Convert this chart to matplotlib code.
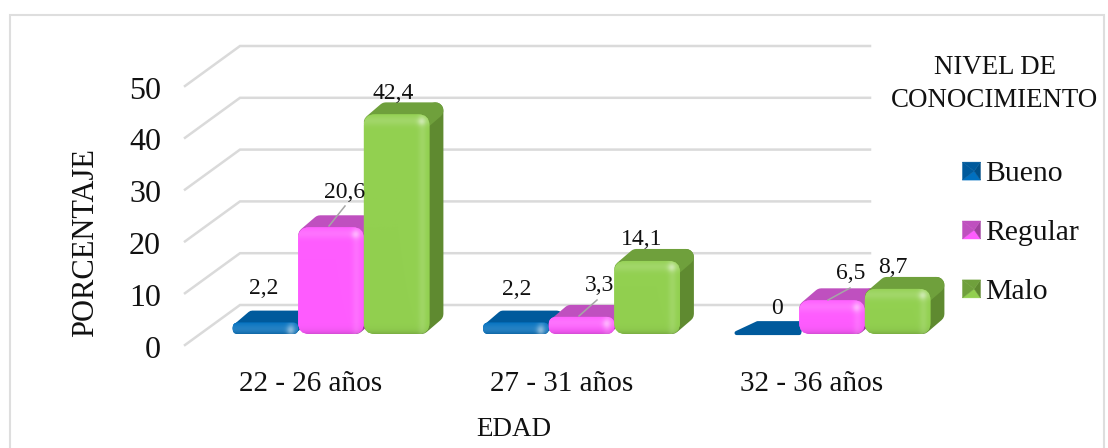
import numpy as np
import matplotlib
matplotlib.use('Agg')
import matplotlib.pyplot as plt
from matplotlib.patches import FancyBboxPatch, Polygon, Rectangle
from matplotlib.legend_handler import HandlerBase
from matplotlib.colors import to_rgb

plt.rcParams['font.family'] = ['Liberation Serif', 'DejaVu Serif']

# data
edades = ['22 - 26 años', '27 - 31 años', '32 - 36 años']
bueno = [2.2, 2.2, 0]
regular = [20.6, 3.3, 6.5]
malo = [42.4, 14.1, 8.7]
niveles = ['Bueno', 'Regular', 'Malo']
y_ticks = [0, 10, 20, 30, 40, 50]

# front, top, side colours per series
colors = [('#0070C0', '#005A9C', '#004F88'),
          ('#FF5CFF', '#BF50BF', '#A040A0'),
          ('#92D050', '#6FA03C', '#5F8A30')]

W, H = 1108, 448
PX_X = 250.5   # px per group
PX_Y = 5.18    # px per percent
X0, Y0 = 331, 334  # pixel of group 0 centre / value 0


def fx(px):
    return (px - X0) / PX_X


def fy(py):
    return (Y0 - py) / PX_Y


fig = plt.figure(figsize=(W / 100, H / 100), dpi=100)
ax = fig.add_axes([0, 0, 1, 1])
ax.set_xlim(fx(0), fx(W))
ax.set_ylim(fy(H), fy(0))
ax.axis('off')

# chart border
fig.patches.append(Rectangle((9.5 / W, -0.01), 1094 / W, 1 - 15 / H + 0.01, transform=fig.transFigure,
                             fc='white', ec='#DEDEDE', lw=1.5, zorder=-5))

# gridlines: floor/wall in fake 3d
grid_c = '#DADADA'
for t in y_ticks:
    ax.plot([fx(185), fx(240), fx(870)],
            [t + fy(345), t + fy(305), t + fy(305)],
            color=grid_c, lw=1.8, zorder=1, solid_joinstyle='miter')

bar_w = 65.6 / PX_X
dx = 14 / PX_X
dy = 12 / PX_Y
r = 11 / PX_X
aspect = PX_X / PX_Y


def bevel_image(rgb, h_px, w_px):
    # lighter band near the top and right edges of the front face
    h_px, w_px = max(int(h_px), 2), max(int(w_px), 2)
    yy, xx = np.mgrid[0:h_px, 0:w_px]
    top = np.exp(-((yy - 6) / 5.0) ** 2)
    right = np.exp(-((w_px - 1 - xx - 7) / 4.0) ** 2)
    spot = np.exp(-(((yy - 7) / 4.0) ** 2 + ((w_px - 1 - xx - 8) / 4.0) ** 2))
    edge = np.exp(-(h_px - 1 - yy) / 3.0)
    light = np.clip(0.14 * top + 0.12 * right + 0.28 * spot, 0, 1)[..., None]
    dark = (0.15 * edge)[..., None]
    base = np.array(rgb)[None, None, :]
    return np.clip(base * (1 - light) * (1 - dark) + light, 0, 1)


def draw_bar(x, v, c, z):
    front, top, side = c
    left, right = x - bar_w / 2, x + bar_w / 2
    # short bars need a smaller corner or the faces cross over
    ins_px = min(8, v * PX_Y / 2)
    ins_x = ins_px / PX_X
    ins_y = ins_px / PX_Y
    lw = ins_px * 2 * 0.72
    if v == 0:
        ax.add_patch(Polygon([(left + 3 / PX_X, 1 / PX_Y), (left + dx + 10 / PX_X, dy * 1.15 - 3 / PX_Y),
                              (right + 2 / PX_X, dy * 1.15 - 3 / PX_Y), (right, 1 / PX_Y)],
                             closed=True, fc=top, ec=top, lw=3, joinstyle='round', zorder=z))
        return
    # side face sits under the top face so the top keeps its rounded corner
    ax.add_patch(Polygon([(right - ins_x, v - ins_y), (right + dx - ins_x, v + dy - ins_y),
                          (right + dx - ins_x, dy + ins_y), (right - ins_x, ins_y)],
                         closed=True, fc=side, ec=side, lw=lw, joinstyle='round', zorder=z))
    ax.add_patch(Polygon([(left + ins_x, v - ins_y), (left + dx + ins_x, v + dy - ins_y),
                          (right + dx - ins_x, v + dy - ins_y), (right - ins_x, v - ins_y)],
                         closed=True, fc=top, ec=top, lw=lw, joinstyle='round', zorder=z))
    # front face with rounded corners and bevel
    rs = min(r, v * 0.45 / aspect)
    box = FancyBboxPatch((left, 0), bar_w, v, boxstyle=f'round,pad=0,rounding_size={rs}',
                         mutation_aspect=aspect, fc=front, ec='none', zorder=z + 0.1)
    ax.add_patch(box)
    im = ax.imshow(bevel_image(to_rgb(front), v * PX_Y, bar_w * PX_X),
                   extent=(left, right, 0, v), origin='upper', aspect='auto', zorder=z + 0.2)
    im.set_clip_path(box)


for g in range(3):
    for s, vals in enumerate([bueno, regular, malo]):
        draw_bar(g + (s - 1) * bar_w, vals[g], colors[s], 3 + g + s * 0.3)

ax.set_xlim(fx(0), fx(W))
ax.set_ylim(fy(H), fy(0))

# value labels, placed by hand as in the source chart
label_px = [[(264, 288), (345, 192), (393, 93)],
            [(517, 289), (600, 285), (642, 239)],
            [(777, 308), (851, 273), (893, 267)]]
leader_px = {(0, 1): ((345, 206), (329, 226)),
             (1, 1): ((597, 300), (579, 316)),
             (2, 1): ((850, 288), (828, 300))}
for g in range(3):
    for s, vals in enumerate([bueno, regular, malo]):
        px, py = label_px[g][s]
        txt = f'{vals[g]}'.replace('.', ',')
        ax.text(fx(px), fy(py), txt, ha='center', va='center', fontsize=17, color='#111111', zorder=20)
        if (g, s) in leader_px:
            a, b = leader_px[(g, s)]
            ax.plot([fx(a[0]), fx(b[0])], [fy(a[1]), fy(b[1])], color='#A6A6A6', lw=1.1, zorder=19)

# y tick labels
for t in y_ticks:
    ax.text(fx(161), t + fy(350), str(t), ha='right', va='center', fontsize=23, color='#111111')

# category labels
for g, name in enumerate(edades):
    ax.text(g - 20 / PX_X, fy(384), name, ha='center', va='center', fontsize=21, color='#111111')

ax.text(fx(86), fy(243), 'PORCENTAJE', rotation=90, ha='center', va='center', fontsize=22, color='#111111')
ax.text(fx(514), fy(429), 'EDAD', ha='center', va='center', fontsize=19.5, color='#111111')
ax.text(fx(995), fy(84), 'NIVEL DE\nCONOCIMIENTO', ha='center', va='center', fontsize=19.4,
        linespacing=1.45, color='#111111')


class PyramidKey(HandlerBase):
    # little square key with shaded facets like a bevelled 3d bar
    def __init__(self, cols):
        super().__init__()
        self.cols = cols

    def create_artists(self, legend, orig, xd, yd, width, height, fontsize, trans):
        front, top, side = self.cols[niveles.index(orig.get_label())]
        s = 18 * 0.72
        x0, y0 = -xd + width - s, -yd + (height - s) / 2
        c = (x0 + s * 0.65, y0 + s * 0.5)
        corners = [(x0, y0), (x0 + s, y0), (x0 + s, y0 + s), (x0, y0 + s)]
        fill = [front, side, top, top]
        out = []
        for i in range(4):
            out.append(Polygon([corners[i], corners[(i + 1) % 4], c], closed=True, fc=fill[i], ec=fill[i],
                               lw=0.3, transform=trans))
        return out


handles = [Rectangle((0, 0), 1, 1, label=n) for n in niveles]
ax.legend(handles=handles, labels=niveles, handler_map={h: PyramidKey(colors) for h in handles},
          loc='center left', bbox_to_anchor=(924 / W, 1 - 233 / H), frameon=False, fontsize=21.4,
          labelspacing=1.08, handlelength=1.0, handletextpad=0.17, labelcolor='#111111')

fig.savefig('out.png', dpi=100)
